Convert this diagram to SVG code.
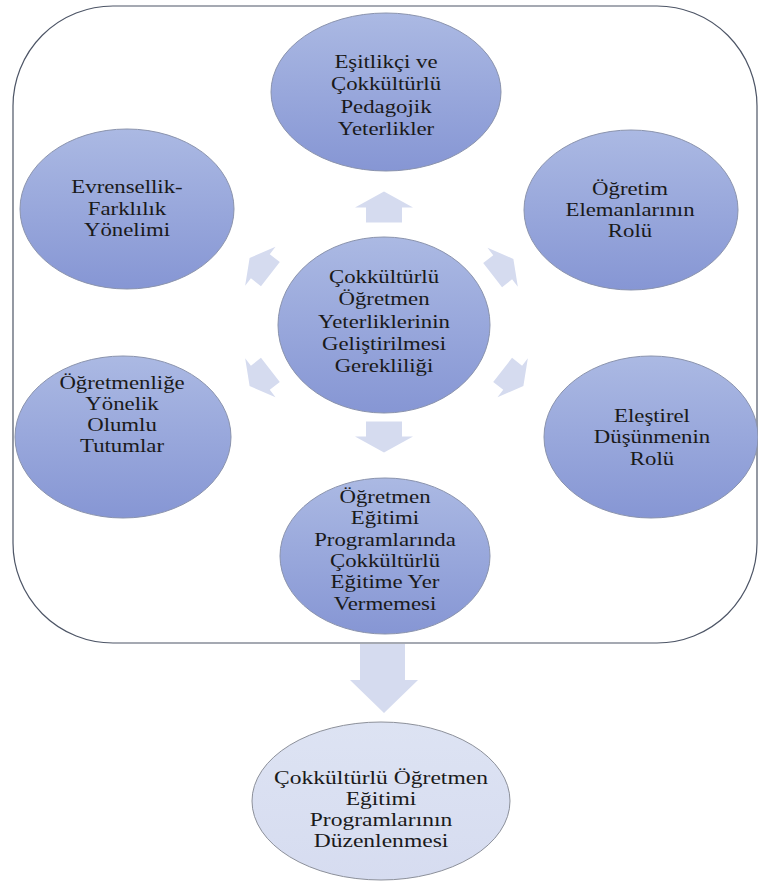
<svg xmlns="http://www.w3.org/2000/svg" width="758" height="885" viewBox="0 0 758 885">
<defs>
<linearGradient id="blue" x1="0" y1="0" x2="0" y2="1">
<stop offset="0" stop-color="#abb9e3"/>
<stop offset="1" stop-color="#8696d4"/>
</linearGradient>
<linearGradient id="pale" x1="0" y1="0" x2="0" y2="1">
<stop offset="0" stop-color="#dde3f3"/>
<stop offset="1" stop-color="#d6dcf0"/>
</linearGradient>
<path id="arr" d="M15.5,0 L-0.5,-29 L-0.5,-18 L-15.5,-18 L-15.5,18 L-0.5,18 L-0.5,29 Z"/>
</defs>
<style>
.frame{fill:#ffffff;stroke:#4d5566;stroke-width:1.2}
.node{fill:url(#blue);stroke:#8a93ad;stroke-width:1}
.out{fill:url(#pale);stroke:#8c909a;stroke-width:1}
.arrow{fill:#d5dbef}
text{font-family:"Liberation Serif","Times New Roman",serif;font-size:19px;fill:#1a1a1a;text-anchor:middle}
</style>
<rect class="frame" x="13" y="6" width="744" height="637" rx="100" ry="100"/>

<g id="connectors">
<use href="#arr" class="arrow" transform="translate(384,207) rotate(-90)"/>
<use href="#arr" class="arrow" transform="translate(384,437) rotate(90)"/>
<use href="#arr" class="arrow" transform="translate(260,266) rotate(218) scale(0.85)"/>
<use href="#arr" class="arrow" transform="translate(503,267) rotate(-38) scale(0.85)"/>
<use href="#arr" class="arrow" transform="translate(260,378) rotate(142) scale(0.85)"/>
<use href="#arr" class="arrow" transform="translate(513,378) rotate(38) scale(0.85)"/>
<path class="arrow" d="M360,644 L405,644 L405,680 L418,680 L384,713 L350,680 L360,680 Z"/>
</g>

<g id="n-top">
<ellipse class="node" cx="386" cy="92" rx="115" ry="79"/>
<g transform="translate(386,0) scale(1.2,1)">
<text x="0" y="68">Eşitlikçi ve</text>
<text x="0" y="90.5">Çokkültürlü</text>
<text x="0" y="113">Pedagojik</text>
<text x="0" y="135.5">Yeterlikler</text>
</g>
</g>

<g id="n-upperleft">
<ellipse class="node" cx="127" cy="209" rx="107" ry="80"/>
<g transform="translate(127,0) scale(1.2,1)">
<text x="0" y="193">Evrensellik-</text>
<text x="0" y="215">Farklılık</text>
<text x="0" y="236">Yönelimi</text>
</g>
</g>

<g id="n-upperright">
<ellipse class="node" cx="631" cy="210" rx="107" ry="80"/>
<g transform="translate(630,0) scale(1.2,1)">
<text x="0" y="195">Öğretim</text>
<text x="0" y="216">Elemanlarının</text>
<text x="0" y="237">Rolü</text>
</g>
</g>

<g id="n-center">
<ellipse class="node" cx="384" cy="325" rx="106" ry="88"/>
<g transform="translate(384,0) scale(1.2,1)">
<text x="0" y="283">Çokkültürlü</text>
<text x="0" y="305">Öğretmen</text>
<text x="0" y="328">Yeterliklerinin</text>
<text x="0" y="350">Geliştirilmesi</text>
<text x="0" y="372">Gerekliliği</text>
</g>
</g>

<g id="n-lowerleft">
<ellipse class="node" cx="123" cy="437" rx="108" ry="81"/>
<g transform="translate(122,0) scale(1.2,1)">
<text x="0" y="389">Öğretmenliğe</text>
<text x="0" y="410">Yönelik</text>
<text x="0" y="431">Olumlu</text>
<text x="0" y="452">Tutumlar</text>
</g>
</g>

<g id="n-lowerright">
<ellipse class="node" cx="651" cy="437" rx="107" ry="81"/>
<g transform="translate(652,0) scale(1.2,1)">
<text x="0" y="422">Eleştirel</text>
<text x="0" y="443">Düşünmenin</text>
<text x="0" y="465">Rolü</text>
</g>
</g>

<g id="n-bottom">
<ellipse class="node" cx="385" cy="556" rx="105" ry="78"/>
<g transform="translate(385,0) scale(1.2,1)">
<text x="0" y="503">Öğretmen</text>
<text x="0" y="524">Eğitimi</text>
<text x="0" y="546">Programlarında</text>
<text x="0" y="567">Çokkültürlü</text>
<text x="0" y="588">Eğitime Yer</text>
<text x="0" y="610">Vermemesi</text>
</g>
</g>

<g id="n-result">
<ellipse class="out" cx="381" cy="801" rx="129" ry="79"/>
<g transform="translate(381,0) scale(1.24,1)">
<text x="0" y="784">Çokkültürlü Öğretmen</text>
<text x="0" y="805">Eğitimi</text>
<text x="0" y="826">Programlarının</text>
<text x="0" y="847">Düzenlenmesi</text>
</g>
</g>
</svg>
